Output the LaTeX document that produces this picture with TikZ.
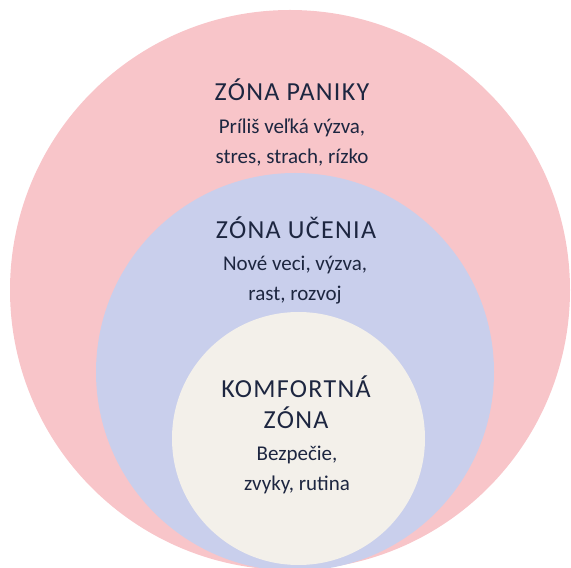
\documentclass[tikz,border=0pt]{standalone}
\usepackage{fontspec}
\setmainfont{Carlito}
\newfontfamily\headfont[LetterSpace=5]{Carlito}
\usepackage{xcolor}
\usetikzlibrary{positioning}
\definecolor{panicpink}{HTML}{F8C5C9}
\definecolor{learnblue}{HTML}{C9CFEC}
\definecolor{comfortcream}{HTML}{F3F0EA}
\definecolor{inkblue}{HTML}{1D2640}

\begin{document}
\begin{tikzpicture}[
				x=1pt, y=1pt,
				zone/.style={circle, inner sep=0pt},
				title/.style={text=inkblue, align=center, font=\headfont\fontsize{26}{31}\selectfont},
				body/.style={text=inkblue, align=center, font=\fontsize{21}{30}\selectfont}]

			\useasboundingbox (0,0) rectangle (571,568);

			\node[zone, fill=panicpink, minimum size=560] (panic) at (290,278) {};
			\node[zone, fill=learnblue, minimum size=398] (learning) at (295,196) {};
			\node[zone, fill=comfortcream, minimum size=253] (comfort) at (298.5,129.5) {};

			\node[title] (panic_title) at (292,478) {ZÓNA PANIKY};
			\node[body] (panic_text) at (292,425) {Príliš veľká výzva,\\stres, strach, rízko};

			\node[title] (learning_title) at (296,340) {ZÓNA UČENIA};
			\node[body] (learning_text) at (295,288) {Nové veci, výzva,\\rast, rozvoj};

			\node[title] (comfort_title) at (296,166) {KOMFORTNÁ\\ZÓNA};
			\node[body] (comfort_text) at (297,98) {Bezpečie,\\zvyky, rutina};

		\end{tikzpicture}
\end{document}
